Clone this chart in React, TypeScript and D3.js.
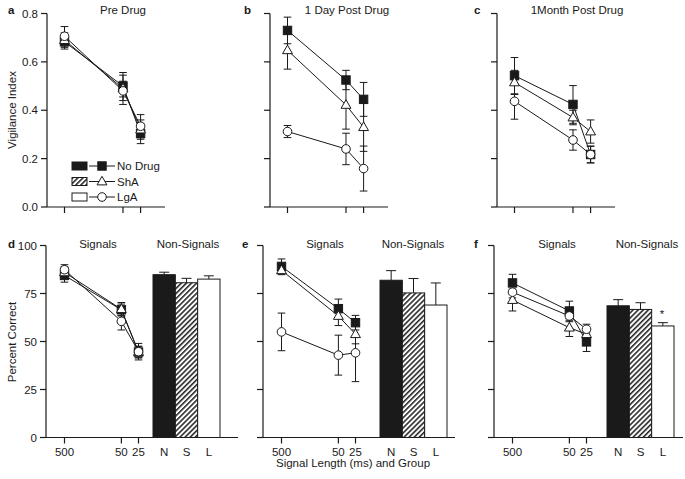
import React from 'react';
import * as d3 from 'd3';

// ---------- data ----------
const signalLengths = [500, 50, 25];
const groupNames = ['No Drug', 'ShA', 'LgA'];
const barLabels = ['N', 'S', 'L'];
const vigTicks = [0, 0.2, 0.4, 0.6, 0.8];
const pctTicks = [0, 25, 50, 75, 100];

// Vigilance index (panels a-c)
const preNoDrug = [0.683, 0.5, 0.304];
const preNoDrugErr = [0.03, 0.045, 0.042];
const preShA = [0.69, 0.49, 0.32];
const preShAErr = [0.03, 0.066, 0.04];
const preLgA = [0.706, 0.48, 0.334];
const preLgAErr = [0.04, 0.04, 0.048];

const dayNoDrug = [0.73, 0.525, 0.445];
const dayNoDrugErr = [0.055, 0.04, 0.07];
const dayShA = [0.648, 0.422, 0.33];
const dayShAErr = [0.078, 0.1, 0.1];
const dayLgA = [0.312, 0.24, 0.159];
const dayLgAErr = [0.025, 0.065, 0.093];

const monthNoDrug = [0.543, 0.424, 0.217];
const monthNoDrugErr = [0.075, 0.078, 0.034];
const monthShA = [0.515, 0.37, 0.312];
const monthShAErr = [0.05, 0.03, 0.048];
const monthLgA = [0.437, 0.277, 0.217];
const monthLgAErr = [0.074, 0.042, 0.035];

// Percent correct (panels d-f)
const pctPreNoDrug = [84.4, 66.5, 44.5];
const pctPreNoDrugErr = [3.5, 3, 3];
const pctPreShA = [86, 66.8, 44.5];
const pctPreShAErr = [3, 3.5, 3];
const pctPreLgA = [87.4, 60.5, 44.7];
const pctPreLgAErr = [2.6, 4.5, 4.3];
const pctPreBars = [84.8, 80.6, 82.5];
const pctPreBarsErr = [1.3, 2.3, 1.7];

const pctDayNoDrug = [89.1, 67.1, 59.8];
const pctDayNoDrugErr = [3.9, 5, 3.8];
const pctDayShA = [87.1, 63.3, 53.8];
const pctDayShAErr = [2.3, 5, 5];
const pctDayLgA = [55, 42.9, 44.1];
const pctDayLgAErr = [9.8, 10.4, 15];
const pctDayBars = [81.9, 75.3, 69];
const pctDayBarsErr = [5, 7.5, 11.5];

const pctMonthNoDrug = [80.5, 65.9, 49.8];
const pctMonthNoDrugErr = [4.5, 5.1, 5];
const pctMonthShA = [71.6, 57.2, 53.8];
const pctMonthShAErr = [5.7, 4.6, 3];
const pctMonthLgA = [75.7, 63.3, 56.4];
const pctMonthLgAErr = [3, 3, 2.6];
const pctMonthBars = [68.6, 66.7, 58.1];
const pctMonthBarsErr = [3.2, 3.5, 1.7];

// ---------- styling ----------
const FONT = '"Liberation Sans", Arial, Helvetica, sans-serif';
const INK = '#1a1a1a';
const FS = 11.5;
const markerTypes = ['square', 'triangle', 'circle'];
const barFills = [INK, 'url(#hatch)', '#fff'];

type Series = { values: number[]; errs: number[]; marker: string };

function Marker({ type, x, y }: { type: string; x: number; y: number }) {
  if (type === 'square')
    return <rect x={x - 4.2} y={y - 4.2} width={8.4} height={8.4} fill={INK} stroke={INK} strokeWidth={1} />;
  if (type === 'triangle') {
    const r = 5.2;
    const p = `${x},${y - r} ${x - r * 0.95},${y + r * 0.65} ${x + r * 0.95},${y + r * 0.65}`;
    return <polygon points={p} fill="#fff" stroke={INK} strokeWidth={1} />;
  }
  return <circle cx={x} cy={y} r={4.3} fill="#fff" stroke={INK} strokeWidth={1} />;
}

function ErrBar({ x, y1, y2, w = 3.8 }: { x: number; y1: number; y2: number; w?: number }) {
  return (
    <g stroke={INK} strokeWidth={1}>
      <line x1={x} x2={x} y1={y1} y2={y2} />
      <line x1={x - w} x2={x + w} y1={y1} y2={y1} />
      <line x1={x - w} x2={x + w} y1={y2} y2={y2} />
    </g>
  );
}

function LinePanel({
  ax, yScale, series, ticks, tickLabels, axisLen, x0, x1, bottom, top,
}: any) {
  const x = d3.scaleLog().domain([500, 25]).range([ax + x0, ax + x1]);
  const line = d3.line<number>().x((_, i) => x(signalLengths[i])).y((v) => yScale(v));
  return (
    <g>
      <line x1={ax} x2={ax} y1={top} y2={bottom} stroke={INK} strokeWidth={1.2} />
      <line x1={ax} x2={ax + axisLen} y1={bottom} y2={bottom} stroke={INK} strokeWidth={1.2} />
      {ticks.map((t: number, i: number) => (
        <g key={'yt' + i}>
          <line x1={ax - 6} x2={ax} y1={yScale(t)} y2={yScale(t)} stroke={INK} strokeWidth={1.2} />
          {tickLabels && (
            <text x={ax - 9} y={yScale(t)} dy="0.36em" textAnchor="end" fontSize={FS} fill={INK} fontFamily={FONT}>
              {tickLabels[i]}
            </text>
          )}
        </g>
      ))}
      {signalLengths.map((s) => (
        <line key={'xt' + s} x1={x(s)} x2={x(s)} y1={bottom} y2={bottom + 6} stroke={INK} strokeWidth={1.2} />
      ))}
      {series.map((se: Series, si: number) =>
        se.values.map((v, i) => (
          <ErrBar key={'e' + si + '-' + i} x={x(signalLengths[i])} y1={yScale(v + se.errs[i])} y2={yScale(v - se.errs[i])} />
        ))
      )}
      {series.map((se: Series, si: number) => (
        <path key={'l' + si} d={line(se.values) || ''} fill="none" stroke={INK} strokeWidth={1} />
      ))}
      {series.map((se: Series, si: number) =>
        se.values.map((v, i) => <Marker key={'m' + si + '-' + i} type={se.marker} x={x(signalLengths[i])} y={yScale(v)} />)
      )}
    </g>
  );
}

function BarGroup({ ax, start, yScale, values, errs, bottom }: any) {
  const xb = d3.scaleBand().domain(barLabels).range([ax + start, ax + start + 67]).padding(0);
  return (
    <g>
      {values.map((v: number, i: number) => {
        const bx = xb(barLabels[i]) as number;
        const cx = bx + xb.bandwidth() / 2;
        return (
          <g key={'b' + i}>
            <line x1={cx} x2={cx} y1={yScale(v)} y2={yScale(v + errs[i])} stroke={INK} strokeWidth={1} />
            <line x1={cx - 5} x2={cx + 5} y1={yScale(v + errs[i])} y2={yScale(v + errs[i])} stroke={INK} strokeWidth={1} />
            <rect x={bx} y={yScale(v)} width={xb.bandwidth()} height={bottom - yScale(v)} fill={barFills[i]} stroke={INK} strokeWidth={1} />
            <text x={cx} y={452} dy="0.36em" textAnchor="middle" fontSize={FS} fill={INK} fontFamily={FONT}>
              {barLabels[i]}
            </text>
          </g>
        );
      })}
    </g>
  );
}

export default function App() {
  const topBottom = 207;
  const yTop = d3.scaleLinear().domain([0, 0.8]).range([topBottom, 13.5]);
  const botBottom = 437.5;
  const yBot = d3.scaleLinear().domain([0, 100]).range([botBottom, 245.5]);

  const mk = (vals: number[][], errs: number[][]): Series[] =>
    vals.map((v, i) => ({ values: v, errs: errs[i], marker: markerTypes[i] }));

  const topPanels = [
    { ax: 47, letter: 'a', letterX: 8, title: 'Pre Drug', titleX: 123,
      series: mk([preNoDrug, preShA, preLgA], [preNoDrugErr, preShAErr, preLgAErr]) },
    { ax: 270, letter: 'b', letterX: 244, title: '1 Day Post Drug', titleX: 347,
      series: mk([dayNoDrug, dayShA, dayLgA], [dayNoDrugErr, dayShAErr, dayLgAErr]) },
    { ax: 497, letter: 'c', letterX: 474, title: '1Month Post Drug', titleX: 577,
      series: mk([monthNoDrug, monthShA, monthLgA], [monthNoDrugErr, monthShAErr, monthLgAErr]) },
  ];
  const botPanels = [
    { ax: 46, letter: 'd', letterX: 8, barStart: 107, signalsX: 98, nonX: 188,
      series: mk([pctPreNoDrug, pctPreShA, pctPreLgA], [pctPreNoDrugErr, pctPreShAErr, pctPreLgAErr]),
      bars: pctPreBars, barErrs: pctPreBarsErr },
    { ax: 263, letter: 'e', letterX: 242, barStart: 117, signalsX: 325, nonX: 413,
      series: mk([pctDayNoDrug, pctDayShA, pctDayLgA], [pctDayNoDrugErr, pctDayShAErr, pctDayLgAErr]),
      bars: pctDayBars, barErrs: pctDayBarsErr },
    { ax: 494, letter: 'f', letterX: 474, barStart: 113, signalsX: 557, nonX: 647,
      series: mk([pctMonthNoDrug, pctMonthShA, pctMonthLgA], [pctMonthNoDrugErr, pctMonthShAErr, pctMonthLgAErr]),
      bars: pctMonthBars, barErrs: pctMonthBarsErr },
  ];

  const legendRows = [166, 181.5, 197];

  return (
    <svg width={685} height={479} style={{ position: 'absolute', left: 0, top: 0, background: '#fff' }} fontFamily={FONT}>
      <defs>
        <pattern id="hatch" patternUnits="userSpaceOnUse" width={3.6} height={3.6} patternTransform="rotate(45)">
          <rect width={3.6} height={3.6} fill="#fff" />
          <line x1={0.8} y1={0} x2={0.8} y2={3.6} stroke={INK} strokeWidth={1.5} />
        </pattern>
      </defs>
      <rect width={685} height={479} fill="#fff" />

      {topPanels.map((p, pi) => (
        <g key={'tp' + pi}>
          <LinePanel ax={p.ax} yScale={yTop} series={p.series} ticks={vigTicks}
            tickLabels={pi === 0 ? vigTicks.map((t) => d3.format('.1f')(t)) : null}
            axisLen={118} x0={17.5} x1={93.6} bottom={topBottom} top={yTop(0.8)} />
          <text x={p.letterX} y={14} fontSize={FS} fontWeight="bold" fill={INK}>{p.letter}</text>
          <text x={p.titleX} y={14} textAnchor="middle" fontSize={FS} fill={INK}>{p.title}</text>
        </g>
      ))}

      {botPanels.map((p, pi) => (
        <g key={'bp' + pi}>
          <LinePanel ax={p.ax} yScale={yBot} series={p.series} ticks={pctTicks}
            tickLabels={pi === 0 ? pctTicks.map(String) : null}
            axisLen={pi === 2 ? 189 : 192} x0={18.5} x1={92.5} bottom={botBottom} top={yBot(100)} />
          <BarGroup ax={p.ax} start={p.barStart} yScale={yBot} values={p.bars} errs={p.barErrs} bottom={botBottom} />
          {signalLengths.map((s) => {
            const x = d3.scaleLog().domain([500, 25]).range([p.ax + 18.5, p.ax + 92.5]);
            return (
              <text key={'xl' + s} x={x(s)} y={452} dy="0.36em" textAnchor="middle" fontSize={FS} fill={INK}>
                {s}
              </text>
            );
          })}
          <text x={p.letterX} y={248} fontSize={FS} fontWeight="bold" fill={INK}>{p.letter}</text>
          <text x={p.signalsX} y={248} textAnchor="middle" fontSize={FS} fill={INK}>Signals</text>
          <text x={p.nonX} y={248} textAnchor="middle" fontSize={FS} fill={INK}>Non-Signals</text>
        </g>
      ))}
      <text x={662} y={318} textAnchor="middle" fontSize={FS} fill={INK}>*</text>

      {legendRows.map((ly, i) => (
        <g key={'lg' + i}>
          <rect x={72} y={ly - 4} width={15} height={8} fill={barFills[i]} stroke={INK} strokeWidth={1} />
          <line x1={89} x2={115} y1={ly} y2={ly} stroke={INK} strokeWidth={1} />
          <Marker type={markerTypes[i]} x={102} y={ly} />
          <text x={117} y={ly} dy="0.36em" fontSize={FS} fill={INK}>{groupNames[i]}</text>
        </g>
      ))}

      <text transform="translate(16,110) rotate(-90)" textAnchor="middle" fontSize={FS} fill={INK}>Vigilance Index</text>
      <text transform="translate(16,342) rotate(-90)" textAnchor="middle" fontSize={FS} fill={INK}>Percent Correct</text>
      <text x={353} y={467} textAnchor="middle" fontSize={FS} fill={INK}>Signal Length (ms) and Group</text>
    </svg>
  );
}
